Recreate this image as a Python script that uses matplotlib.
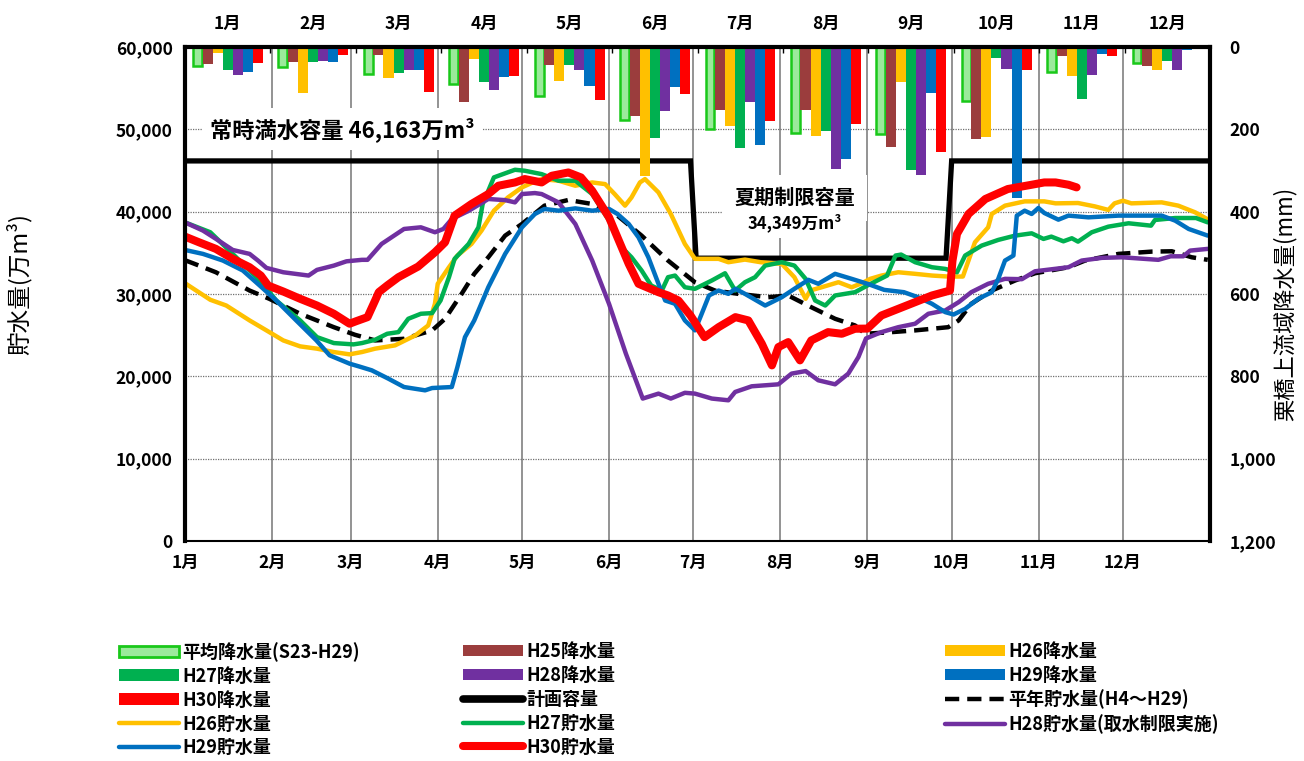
import matplotlib
matplotlib.use('Agg')
import matplotlib.pyplot as plt
import numpy as np
from matplotlib.lines import Line2D
from matplotlib.patches import Patch

plt.rcParams['font.family'] = ['Noto Sans CJK JP', 'DejaVu Sans']
plt.rcParams['font.weight'] = 'bold'

# ---------------- data ----------------
months = ['1月', '2月', '3月', '4月', '5月', '6月', '7月', '8月', '9月', '10月', '11月', '12月']
month_start_days = [0, 31, 59, 90, 120, 151, 181, 212, 243, 273, 304, 334]

# monthly precipitation (mm)
rain_avg = [45, 48, 66, 90, 118, 177, 199, 208, 212, 130, 61, 40]
rain_h25 = [42, 37, 19, 133, 44, 167, 153, 153, 243, 223, 23, 46]
rain_h26 = [15, 112, 76, 29, 82, 314, 192, 217, 86, 219, 70, 57]
rain_h27 = [57, 36, 62, 86, 44, 220, 246, 205, 298, 27, 126, 33]
rain_h28 = [69, 35, 57, 104, 56, 155, 133, 297, 310, 54, 68, 57]
rain_h29 = [61, 37, 55, 73, 94, 96, 238, 273, 112, 367, 17, 7]
rain_h30 = [40, 19, 110, 70, 129, 115, 179, 188, 255, 57, 23, 0]

# planned capacity (万m3)
cap_days = [0, 180, 182, 271, 273, 365]
cap_vals = [46163, 46163, 34349, 34349, 46163, 46163]

# storage (万m3) by day of year
h26_days = [0, 9, 14.7, 23, 29, 35, 41, 47, 53, 58.6, 63, 67.7, 74.8, 82, 86.6, 89, 90, 94, 97, 102,
            105.6, 110, 115, 120, 124.6, 127, 133, 139, 145, 149.6, 153, 156.7, 159, 162, 163.8, 168.6,
            173, 178, 181.6, 190, 193.5, 199.4, 205, 212.5, 217, 221, 222.6, 226.7, 232.7, 237.4, 241,
            244, 248, 254, 260, 266, 271.8, 277, 279, 281.3, 286, 287.3, 292, 299, 306, 310, 318, 324,
            328.8, 331, 334, 337, 347.8, 353.7, 359.7, 364]
h26_store = [31310, 29300, 28600, 26790, 25580, 24360, 23640, 23360, 22950, 22670, 22950, 23360, 23760,
             24970, 26180, 28810, 31240, 33250, 34670, 36080, 37700, 40120, 41730, 42950, 43670, 43960,
             43760, 43150, 43550, 43350, 42140, 40730, 41730, 43550, 43960, 42340, 39720, 36080, 34270,
             34270, 33860, 34180, 33860, 33660, 32040, 29420, 30420, 30820, 31430, 30820, 31310, 31840,
             32240, 32640, 32450, 32240, 32120, 32120, 34060, 36280, 38100, 39720, 40730, 41250, 41250,
             41010, 41050, 40640, 40210, 41010, 41330, 41010, 41130, 40730, 39920, 39110]

h27_days = [0, 9, 17, 26.6, 32.5, 41, 47, 53, 60, 63, 67.7, 72, 76, 79.5, 84, 88, 91, 94, 96, 101, 104.5,
            106, 110, 117.5, 121, 127, 133, 139, 145, 151, 155.5, 159, 162.6, 166, 169.8, 172, 174.5, 178,
            181.6, 187.6, 192.3, 195.9, 199.4, 203, 206.6, 212.5, 217, 221, 224.4, 228, 231.5, 238.6, 243,
            250, 253, 255, 260, 266, 270.7, 274.9, 277.8, 283.7, 289.6, 295.6, 301.5, 305.7, 308.5, 312.8,
            315.8, 318, 322.9, 328.8, 336, 344, 345.4, 352.6, 360, 364.2]
h27_store = [38700, 37500, 34870, 31640, 29210, 26790, 24760, 24040, 23880, 24040, 24440, 25170, 25370,
             26990, 27600, 27680, 29210, 32040, 34270, 36080, 38100, 40930, 44160, 45090, 44970, 44560,
             43760, 43760, 42140, 38910, 35680, 34460, 32850, 31030, 30420, 32040, 32240, 30820, 30630,
             31640, 32520, 30420, 31430, 32040, 33450, 33860, 33450, 31840, 29210, 28600, 29820, 30220,
             31030, 32240, 34670, 34790, 33860, 33250, 33050, 32640, 34670, 35880, 36570, 37090, 37370,
             36690, 36970, 36400, 36770, 36360, 37500, 38180, 38590, 38300, 38990, 39230, 39230, 38700]

h28_days = [0, 6.4, 11, 17, 23, 26, 29, 35, 44, 47, 53, 57.5, 63, 65, 70, 78, 84, 89, 92, 95, 101, 108, 114,
            117.5, 120, 124.6, 127, 133, 139, 145, 151, 157, 163, 168.6, 173, 178, 181.6, 187.6, 193.5,
            195.9, 201.8, 211.3, 216, 221, 225.5, 231.5, 236.2, 239.8, 242.5, 248, 254, 260, 264.7, 270.7,
            275.5, 280, 286, 292, 298, 302.7, 314.6, 319.3, 326.5, 333.6, 346.6, 351, 355.5, 357.9, 364.2]
h28_store = [38700, 37700, 36700, 35350, 34870, 34060, 33170, 32640, 32240, 32930, 33450, 33970, 34150,
             34150, 36080, 37900, 38100, 37500, 37900, 39100, 40100, 41540, 41400, 41130, 42140, 42260,
             42140, 41130, 38500, 34060, 28800, 22750, 17300, 17900, 17300, 18000, 17900, 17300, 17090,
             18100, 18790, 19030, 20330, 20640, 19520, 19030, 20330, 22340, 24600, 25370, 25970, 26390,
             27600, 28000, 29010, 30220, 31240, 31840, 31800, 32760, 33250, 34060, 34390, 34460, 34150,
             34580, 34580, 35270, 35480]

h29_days = [0, 6.4, 13.5, 20.6, 26.6, 32.5, 39.6, 46.8, 51.5, 58.6, 62, 66.5, 72.4, 78, 85.5, 88, 95, 97,
            99.7, 103, 108, 114, 120, 124.6, 128, 133, 139, 145, 151, 154, 158, 161.5, 165, 168.6, 171,
            174.5, 178, 181.6, 184, 186.6, 190, 193.5, 196, 199.4, 206.6, 212.5, 217, 222, 225.5, 231.5,
            237.4, 243, 249, 256, 261, 266, 270.7, 273.7, 277.8, 282.5, 287.3, 289.6, 292, 295, 296.2, 299,
            301.5, 303.9, 306, 311, 314.6, 321.7, 332.4, 347.8, 352.6, 357.4, 364.2]
h29_store = [35350, 34870, 34060, 32850, 31030, 29210, 26790, 24360, 22550, 21540, 21200, 20730, 19720,
             18700, 18300, 18580, 18700, 21130, 24760, 26790, 30820, 34870, 38100, 39720, 40330, 40120,
             40400, 40120, 40330, 39720, 38510, 36880, 34460, 31240, 29210, 28810, 26790, 25580, 27600,
             29820, 30420, 30020, 30630, 30020, 28600, 29610, 30630, 31720, 31240, 32450, 31840, 31240,
             30500, 30220, 29610, 28810, 27800, 27510, 28200, 29420, 30220, 31840, 34060, 34670, 39520,
             40120, 39720, 40450, 39840, 39030, 39520, 39310, 39520, 39520, 38910, 37900, 37090]

h30_days = [0, 5, 11, 17, 23, 27, 29.6, 35, 41, 47, 53, 58.6, 61, 65, 67.7, 69, 72, 76, 83, 89, 92.6, 96,
            102, 108, 111.6, 117.5, 121, 127, 130.6, 136.5, 141, 145, 151, 154, 158, 161.5, 168.6, 172,
            175.7, 180, 185, 190, 196, 200.6, 205.4, 209, 211.3, 214.8, 219, 223, 229, 233.9, 238.6, 243,
            248, 254, 260, 266, 272.4, 273.3, 274.9, 279, 285, 293, 301.5, 306, 310, 314.6, 317.5]
h30_store = [36970, 36280, 35480, 34270, 33250, 32240, 31030, 30300, 29420, 28600, 27600, 26390, 26700,
             27190, 29210, 30220, 31030, 32040, 33330, 35070, 36280, 39520, 40930, 42140, 43150, 43550,
             43960, 43550, 44360, 44760, 44160, 42540, 39310, 36880, 33660, 31240, 30220, 29820, 29210,
             27390, 24760, 25970, 27190, 26790, 23960, 21330, 23550, 24160, 21940, 24360, 25370, 25170,
             25780, 25800, 27390, 28200, 29010, 29820, 30420, 34060, 37300, 39720, 41540, 42750, 43270,
             43550, 43550, 43270, 42950]

avg_days = [0, 2.8, 11, 23, 30, 41, 53, 60.5, 67.7, 78, 88, 92.6, 98.5, 103, 108, 114, 120, 128, 136.5, 145,
            154, 162.6, 172, 181.6, 188.7, 197, 207.7, 214.8, 223, 231.5, 238.6, 242.2, 251.7, 260, 271.8,
            275.5, 280, 287.3, 295.6, 302.7, 314.6, 320.5, 332.4, 344.3, 351.4, 358.5, 364.2]
avg_store = [34100, 33740, 32640, 30420, 29420, 27600, 25970, 25050, 24360, 24560, 25580, 26990, 30020,
             32450, 34460, 37090, 38510, 40730, 41420, 40930, 39520, 37090, 34060, 31430, 30420, 30020,
             29610, 29820, 28400, 26990, 26180, 25170, 25370, 25580, 25970, 26790, 28810, 30420, 31640,
             32520, 33250, 34060, 34870, 35150, 35190, 34460, 34150]

# ---------------- styles ----------------
C_AVG_FACE, C_AVG_EDGE = '#9BEA9B', '#19C819'
C_H25 = '#9B3D3D'
C_H26 = '#FFC000'
C_H27 = '#00B050'
C_H28 = '#7030A0'
C_H29 = '#0070C0'
C_H30 = '#FF0000'

W, H = 1304, 761
fig = plt.figure(figsize=(W / 100, H / 100), dpi=100)
rect = [185 / W, 1 - 541 / H, (1210 - 185) / W, (541 - 47) / H]

# base axes: storage scale, grid, planned capacity
ax = fig.add_axes(rect)
ax.set_xlim(0, 365)
ax.set_ylim(0, 60000)
ax.set_yticks(range(0, 60001, 10000))
ax.set_yticklabels([f'{v:,}' for v in range(0, 60001, 10000)])
ax.set_xticks(month_start_days)
ax.set_xticklabels(months)
ax.tick_params(axis='both', length=0, labelsize=12.5, pad=9)
ax.grid(axis='y', linestyle=(0, (1, 1)), color='#707070', lw=0.9)
ax.grid(axis='x', linestyle='-', color='#8a8a8a', lw=1.3)
ax.set_axisbelow(True)
for s in ax.spines.values():
    s.set_visible(False)
ax.plot(cap_days, cap_vals, color='black', lw=3.8, zorder=5, solid_joinstyle='miter')
ax.set_ylabel('貯水量(万m³)', fontsize=17)
ax.yaxis.set_label_coords((32 - 185) / 1025, 0.52)

ax.text(9, 50000, '常時満水容量 46,163万m³', fontsize=16, va='center', ha='left', zorder=4,
        bbox=dict(facecolor='white', edgecolor='none', pad=6))
ax.text(217, 41700, '夏期制限容量', fontsize=14.5, va='center', ha='center', zorder=4,
        bbox=dict(facecolor='white', edgecolor='none', pad=9))
ax.text(217, 38600, '34,349万m³', fontsize=12, va='center', ha='center', zorder=4,
        bbox=dict(facecolor='white', edgecolor='none', pad=4))

# bar axes: precipitation (inverted right axis)
axb = fig.add_axes(rect)
axb.patch.set_visible(False)
axb.set_xlim(0, 12)
axb.set_ylim(1200, 0)
series = [
    (rain_avg, C_AVG_FACE, C_AVG_EDGE),
    (rain_h25, C_H25, None),
    (rain_h26, C_H26, None),
    (rain_h27, C_H27, None),
    (rain_h28, C_H28, None),
    (rain_h29, C_H29, None),
    (rain_h30, C_H30, None),
]
bw = 0.118
xc = np.arange(12) + 0.5
for i, (vals, fc, ec) in enumerate(series):
    pos = xc + (i - 3) * bw
    if ec is None:
        axb.bar(pos, vals, width=bw, color=fc, linewidth=0)
    else:
        axb.bar(pos, vals, width=bw * 0.88, color=fc, edgecolor=ec, linewidth=1.8)
axb.yaxis.tick_right()
axb.yaxis.set_label_position('right')
axb.set_yticks(range(0, 1201, 200))
axb.set_yticklabels([f'{v:,}' for v in range(0, 1201, 200)])
axb.xaxis.tick_top()
axb.set_xticks(xc)
axb.set_xticklabels(months)
axb.set_xticks(np.arange(13), minor=True)
axb.tick_params(axis='x', which='major', length=0, labelsize=12.5, pad=10)
axb.tick_params(axis='x', which='minor', direction='in', length=4, width=1)
axb.tick_params(axis='y', length=0, labelsize=12.5, pad=14)
axb.set_ylabel('栗橋上流域降水量(mm)', fontsize=16)
axb.yaxis.set_label_coords((1273 - 185) / 1025, 0.48)
for s in axb.spines.values():
    s.set_visible(False)

# line axes: storage curves + frame
axl = fig.add_axes(rect)
axl.patch.set_visible(False)
axl.set_xlim(0, 365)
axl.set_ylim(0, 60000)
axl.set_xticks([])
axl.set_yticks([])
kw = dict(solid_joinstyle='round', solid_capstyle='round')
axl.plot(avg_days, avg_store, color='black', lw=3.2, linestyle=(0, (3.2, 1.8)))
axl.plot(h26_days, h26_store, color=C_H26, lw=3.2, **kw)
axl.plot(h27_days, h27_store, color=C_H27, lw=3.2, **kw)
axl.plot(h28_days, h28_store, color=C_H28, lw=3.2, **kw)
axl.plot(h29_days, h29_store, color=C_H29, lw=3.2, **kw)
axl.plot(h30_days, h30_store, color=C_H30, lw=5.8, **kw)
for side, s in axl.spines.items():
    s.set_linewidth(3.0 if side != 'bottom' else 1.5)
    s.set_color('black')

# ---------------- legend ----------------
def bar_patch(fc, ec=None):
    if ec:
        return Patch(facecolor=fc, edgecolor=ec, linewidth=2)
    return Patch(facecolor=fc, edgecolor=fc, linewidth=0)

col1 = [(bar_patch(C_AVG_FACE, C_AVG_EDGE), '平均降水量(S23-H29)'),
        (bar_patch(C_H27), 'H27降水量'),
        (bar_patch(C_H30), 'H30降水量'),
        (Line2D([], [], color=C_H26, lw=3.2, solid_capstyle='round'), 'H26貯水量'),
        (Line2D([], [], color=C_H29, lw=3.2, solid_capstyle='round'), 'H29貯水量')]
col2 = [(bar_patch(C_H25), 'H25降水量'),
        (bar_patch(C_H28), 'H28降水量'),
        (Line2D([], [], color='black', lw=5.5, solid_capstyle='round'), '計画容量'),
        (Line2D([], [], color=C_H27, lw=3.2, solid_capstyle='round'), 'H27貯水量'),
        (Line2D([], [], color=C_H30, lw=5.8, solid_capstyle='round'), 'H30貯水量')]
col3 = [(bar_patch(C_H26), 'H26降水量'),
        (bar_patch(C_H29), 'H29降水量'),
        (Line2D([], [], color='black', lw=3.2, linestyle=(0, (3.2, 1.8))), '平年貯水量(H4～H29)'),
        (Line2D([], [], color=C_H28, lw=3.2, solid_capstyle='round'), 'H28貯水量(取水制限実施)')]

for col, x0 in [(col1, 119), (col2, 463), (col3, 945)]:
    hs, ls = zip(*col)
    fig.legend(hs, ls, loc='upper left', bbox_to_anchor=(x0 / W, 1 - 642 / H),
               frameon=False, fontsize=13, handlelength=3.3, handleheight=0.62,
               handletextpad=0.22, labelspacing=0.27, borderpad=0, borderaxespad=0)

fig.savefig('out.png', dpi=100)
